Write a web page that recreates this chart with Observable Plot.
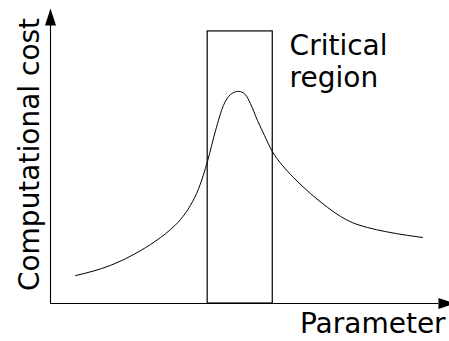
<!DOCTYPE html>
<html>
<head>
<meta charset="utf-8">
<script src="https://cdn.jsdelivr.net/npm/d3@7"></script>
<script src="https://cdn.jsdelivr.net/npm/@observablehq/plot@0.6"></script>
<style>
  html, body { margin: 0; padding: 0; background: white; }
  svg { display: block; }
</style>
</head>
<body>
<div id="chart"></div>
<script>
// Curve data (arbitrary units: parameter 0–100, cost 0–100)
const parameter = [6.4, 15.3, 23.0, 28.1, 30.6, 33.2, 35.7, 37.8, 40.1, 42.1, 44.1, 45.9, 48.0, 49.7, 51.0, 52.8, 54.6, 56.6, 59.2, 62.0, 66.3, 70.7, 74.0, 77.0, 80.9, 85.5, 91.1, 94.9];
const cost      = [9.6, 13.1, 18.2, 22.7, 25.4, 28.9, 33.7, 39.5, 49.1, 59.4, 68.0, 71.8, 72.9, 71.8, 68.7, 62.9, 57.7, 52.2, 47.4, 43.3, 37.8, 33.0, 29.9, 27.8, 26.1, 24.7, 23.4, 22.7];

// Critical region bounds
const regionStart = 40.1;
const regionEnd = 56.7;
const regionTop = 93.5;

// Labels
const regionLabel = "Critical\nregion";
const xLabel = "Parameter";
const yLabel = "Computational cost";

const curve = parameter.map((p, i) => ({p, c: cost[i]}));

const arrowUp = {draw(ctx) { ctx.moveTo(0, 0); ctx.lineTo(5.5, 17); ctx.lineTo(-5.5, 17); ctx.closePath(); }};
const arrowRight = {draw(ctx) { ctx.moveTo(0, 0); ctx.lineTo(-17, -5.5); ctx.lineTo(-17, 5.5); ctx.closePath(); }};

const font = "DejaVu Sans";

const chart = Plot.plot({
  width: 449,
  height: 341,
  marginLeft: 50,
  marginRight: 7,
  marginTop: 12,
  marginBottom: 38,
  style: {fontFamily: font, background: "white", color: "black"},
  x: {domain: [0, 100], axis: null},
  y: {domain: [0, 100], axis: null},
  marks: [
    Plot.ruleX([0], {y1: 0, y2: 96, stroke: "black", strokeWidth: 1.1}),
    Plot.ruleY([0], {x1: 0, x2: 99, stroke: "black", strokeWidth: 1.1}),
    Plot.dot([0], {x: 0, y: 101.4, symbol: arrowUp, fill: "black", stroke: "none"}),
    Plot.dot([0], {x: 103.3, y: 0, symbol: arrowRight, fill: "black", stroke: "none"}),
    Plot.rect([{x1: regionStart, x2: regionEnd, y1: 0, y2: regionTop}], {x1: "x1", x2: "x2", y1: "y1", y2: "y2", fill: "none", stroke: "black", strokeWidth: 1.2}),
    Plot.line(curve, {x: "p", y: "c", curve: "monotone-x", stroke: "black", strokeWidth: 1}),
    Plot.text([regionLabel], {x: 61, y: 93.1, text: d => d, textAnchor: "start", lineAnchor: "top", lineHeight: 1.14, fontSize: 28, fill: "black"}),
    Plot.text([xLabel], {x: 100.8, y: -10.3, text: d => d, textAnchor: "end", lineAnchor: "bottom", fontSize: 28, fill: "black"}),
    Plot.text([yLabel], {x: -3.06, y: 51.2, text: d => d, rotate: -90, textAnchor: "middle", lineAnchor: "bottom", fontSize: 28, fill: "black"})
  ]
});
document.getElementById("chart").appendChild(chart);
</script>
</body>
</html>
